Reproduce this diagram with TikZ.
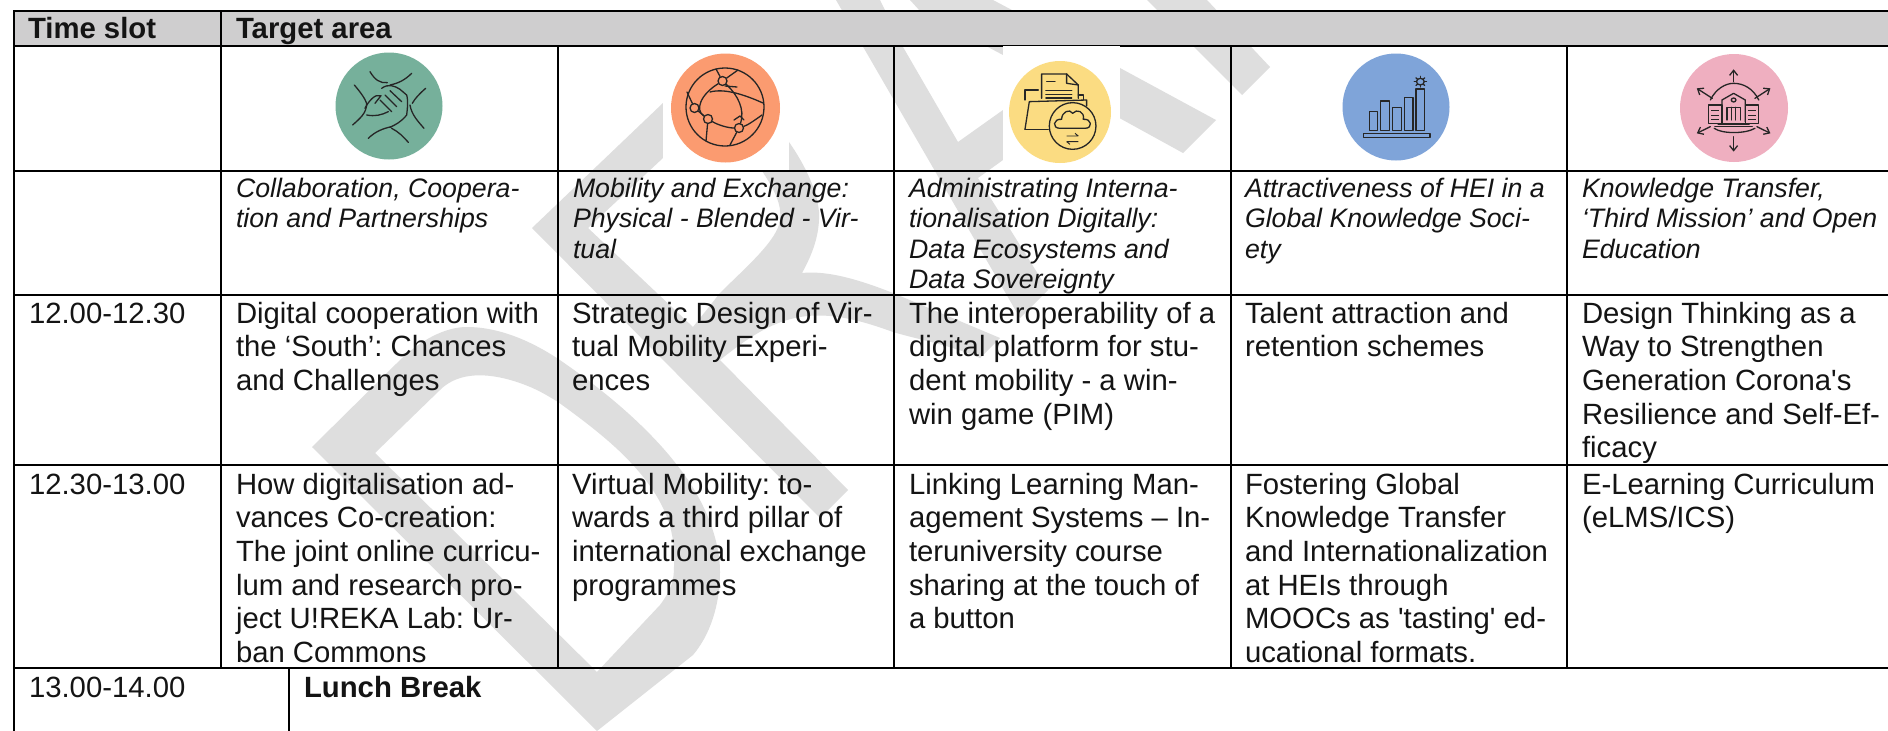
\documentclass[tikz,border=0pt]{standalone}
\usepackage{fontspec}
\newfontfamily\lib{Liberation Sans}
\frenchspacing
\usetikzlibrary{arrows.meta}
\definecolor{wm}{RGB}{222,222,222}
\definecolor{hdr}{RGB}{207,206,207}
\definecolor{ink}{RGB}{20,20,20}
\definecolor{icgreen}{RGB}{118,176,155}
\definecolor{icorange}{RGB}{251,155,112}
\definecolor{icyellow}{RGB}{251,220,130}
\definecolor{icblue}{RGB}{127,164,217}
\definecolor{icpink}{RGB}{239,175,192}
\newcommand\cellrows[1]{\begin{tabular}[t]{@{}l@{}}#1\end{tabular}}
\tikzset{
  wmshape/.style={fill=wm,draw=none},
  rule/.style={line width=1.8pt,draw=black,line cap=rect},
  body/.style={anchor=base west,inner sep=0pt,outer sep=0pt,text=ink,font=\lib\fontsize{29.3}{33.7}\selectfont\frenchspacing},
  ital/.style={anchor=base west,inner sep=0pt,outer sep=0pt,text=ink,font=\lib\fontsize{26.7}{30.6}\selectfont\itshape\frenchspacing},
  head/.style={anchor=base west,inner sep=0pt,outer sep=0pt,text=ink,font=\lib\fontsize{29.3}{33.7}\selectfont\bfseries\frenchspacing},
  art/.style={draw=black!85,line width=1.3pt,line join=round,line cap=round},
  thinart/.style={draw=black!85,line width=0.9pt},
  dot/.style={circle,draw=black!85,line width=1.3pt,minimum size=9pt,inner sep=0pt},
  arr/.style={art,-{Straight Barb[length=5pt,width=8pt]}},
}
\begin{document}
\begin{tikzpicture}[x=1pt,y=-1pt]
\useasboundingbox (0,0) rectangle (1888,731);
\fill[white] (0,0) rectangle (1888,731);

% watermark: D
\fill[wmshape,even odd rule]
  (312,447) -- (397,363) .. controls (420,340) and (445,327) .. (467,327)
  .. controls (500,327) and (535,342) .. (567,365)
  .. controls (610,395) and (650,430) .. (677,465)
  .. controls (705,500) and (720,540) .. (720,572)
  .. controls (720,605) and (710,635) .. (693,655)
  -- (597,731) -- cycle
  (375,453) -- (440,390) .. controls (455,375) and (480,370) .. (517,382)
  .. controls (535,388) and (545,394) .. (558,402)
  .. controls (590,425) and (615,445) .. (633,465)
  .. controls (665,500) and (675,530) .. (674,560)
  .. controls (674,575) and (675,585) .. (660,605)
  -- (597,672) -- cycle;
% watermark: R
\fill[wmshape,even odd rule]
  (532,228) -- (663,103) -- (700,66) .. controls (740,75) and (770,105) .. (789,142)
  .. controls (805,165) and (817,190) .. (819,212)
  .. controls (820,235) and (812,255) .. (802,273)
  .. controls (830,270) and (865,282) .. (893,293)
  -- (1000,338) -- (980,358)
  .. controls (950,345) and (920,340) .. (893,332)
  .. controls (860,320) and (830,312) .. (800,317)
  .. controls (770,322) and (745,340) .. (720,360)
  -- (848,490) -- (820,518) -- cycle
  (588,228) -- (663,158) -- (710,115) .. controls (730,125) and (748,145) .. (760,168)
  .. controls (775,190) and (782,205) .. (780,220)
  .. controls (778,240) and (745,268) .. (720,293)
  -- (693,327) -- cycle;
% watermark: A
\fill[wmshape]
  (836,0) -- (1020,318) -- (1048,290) -- (978,178) -- (1003,160) -- (1083,98)
  -- (1183,153) -- (1216,120) -- (1120,68) -- (1010,9) -- (993,0) -- (910,0)
  -- (920,11) -- (1003,55) -- (1047,78) -- (1003,110) -- (958,142) -- (903,47) -- (880,0) -- cycle;
% watermark: F
\fill[wmshape] (1147,0) -- (1207,0) -- (1270,67) -- (1242,95) -- cycle;

% white backgrounds of two icons
\fill[white] (663,47) rectangle (789,170);

% header band
\fill[hdr] (14,11) rectangle (1888,46);

% table rules
\draw[rule] (14,11) -- (1888,11);
\draw[rule] (14,46) -- (1888,46);
\draw[rule] (14,171) -- (1888,171);
\draw[rule] (14,295) -- (1888,295);
\draw[rule] (14,465) -- (1888,465);
\draw[rule] (14,668) -- (1888,668);
\draw[rule] (14,11) -- (14,731);
\draw[rule] (221,11) -- (221,668);
\draw[rule] (558,46) -- (558,668);
\draw[rule] (894,46) -- (894,668);
\draw[rule] (1231,46) -- (1231,668);
\draw[rule] (1567,46) -- (1567,668);
\draw[rule] (289,668) -- (289,731);

\fill[white] (1003,45.7) rectangle (1120,170);

% icon discs
\fill[icgreen] (389,106) circle (53.5);
\fill[icorange] (725.5,108) circle (54.5);
\fill[icyellow] (1060,112) circle (51);
\fill[icblue] (1396,107) circle (53.5);
\fill[icpink] (1734,108) circle (54);

% green icon: hands
\begin{scope}[shift={(250pt,0pt)},x=0.3333pt,y=-0.3333pt]
\draw[art] (360,215) .. controls (375,240) and (390,250) .. (412,248);
\draw[art] (485,220) .. controls (465,240) and (445,250) .. (420,255);
\draw[art] (313,255) .. controls (330,275) and (345,295) .. (350,310);
\draw[art] (350,310) .. controls (350,340) and (330,355) .. (308,375);
\draw[art] (527,265) .. controls (510,280) and (495,295) .. (487,310);
\draw[art] (480,315) .. controls (485,345) and (505,365) .. (522,385);
\draw[art] (355,415) .. controls (375,395) and (400,385) .. (425,380);
\draw[art] (425,385) .. controls (445,395) and (460,410) .. (475,427);
\draw[art] (345,325) .. controls (355,305) and (375,280) .. (393,287) -- (375,310);
\draw[art] (395,265) .. controls (415,250) and (435,258) .. (450,268);
\draw[art] (450,268) -- (470,285) .. controls (475,300) and (472,330) .. (470,345);
\draw[art] (470,345) .. controls (455,365) and (435,375) .. (420,382);
\draw[art] (405,285) -- (440,320);
\draw[art] (420,272) -- (455,305);
\draw[art] (390,300) -- (425,335);
\draw[art] (350,345) .. controls (375,350) and (395,345) .. (415,335);
\end{scope}

% orange icon: globe
\draw[art] (725,107) circle (39);
\node[dot] (gA) at (722.5,81) {};
\node[dot] (gB) at (694.5,108) {};
\node[dot] (gC) at (708,119) {};
\node[dot] (gD) at (739,128) {};
\draw[art] (gA) .. controls (700,95) and (695,110) .. (gC);
\draw[art] (gA) .. controls (738,95) and (745,110) .. (gD);
\draw[art] (gB) -- (gC);
\draw[art] (gC) .. controls (718,125) and (728,128) .. (gD);
\draw[art] (gD) .. controls (748,125) and (755,120) .. (762,115);
\draw[art] (710,92) .. controls (725,88) and (745,95) .. (763,103);
\draw[art] (gC) -- (706,141);
\draw[art] (gD) -- (730,145);
\draw[art] (gA) -- (716,69);
\draw[art] (gA) -- (738,70);
\draw[art] (gB) -- (687,92);
\draw[art] (725,86) -- (737,87);
\draw[art] (734,120) -- (740,116) -- (744,120);

% yellow icon: folder and cloud
\begin{scope}[shift={(750pt,0pt)},x=0.3333pt,y=-0.3333pt]
\draw[art] (875,295) -- (875,222) -- (950,222) -- (985,255) -- (985,295);
\draw[art] (950,222) -- (950,250) -- (985,255);
\draw[art] (890,245) -- (915,245);
\draw[art,line width=1.6pt] (888,272) -- (965,272);
\draw[art,line width=1.6pt] (888,283) -- (965,283);
\draw[art,line width=1.6pt] (888,294) -- (965,294);
\draw[art] (825,300) -- (825,270) -- (865,270);
\draw[art] (825,388) -- (838,305) -- (1010,300) -- (1010,318);
\draw[art] (825,388) -- (895,388);
\draw[art] (985,285) -- (1000,285) -- (1000,300);
\draw[art] (968,378) circle (70);
\draw[art] (930,385) .. controls (905,385) and (910,355) .. (935,358)
  .. controls (935,335) and (960,325) .. (968,340)
  .. controls (980,325) and (1005,335) .. (1000,358)
  .. controls (1025,355) and (1030,385) .. (1005,385) -- cycle;
\draw[thinart] (950,408) -- (985,408) (975,400) -- (985,408);
\draw[thinart] (950,425) -- (985,425) (950,425) -- (960,433);
\end{scope}

% blue icon: bars
\begin{scope}[shift={(1280pt,0pt)},x=0.3877pt,y=-0.3333pt]
\draw[art] (215,400) rectangle (387,413);
\draw[art] (230,392) rectangle (252,335);
\draw[art] (260,392) rectangle (282,303);
\draw[art] (291,392) rectangle (313,322);
\draw[art] (321,392) rectangle (343,292);
\draw[art] (351,392) rectangle (373,267);
\draw[art] (362,245) circle (10);
\foreach \a in {0,45,...,315} \draw[art] (362,245) ++(\a:10) -- ++(\a:6);
\end{scope}

% pink icon: building with arrows
\begin{scope}[shift={(1280pt,0pt)},x=0.3877pt,y=-0.3333pt]
\draw[arr] (1170,245) -- (1170,208);
\draw[arr] (1170,410) -- (1170,455);
\draw[arr] (1115,295) -- (1075,265);
\draw[arr] (1225,295) -- (1265,265);
\draw[arr] (1110,380) -- (1075,400);
\draw[arr] (1230,380) -- (1265,400);
\draw[art] (1110,300) .. controls (1125,265) and (1150,250) .. (1170,250) .. controls (1195,250) and (1220,265) .. (1235,300);
\draw[art] (1120,385) .. controls (1140,402) and (1200,402) .. (1225,385);
\draw[art] (1105,315) rectangle (1140,370);
\draw[art] (1200,315) rectangle (1235,370);
\draw[art] (1140,365) -- (1140,300) -- (1170,280) -- (1200,300) -- (1200,365);
\draw[art] (1170,300) circle (6);
\draw[art] (1153,360) -- (1153,322) -- (1187,322) -- (1187,360);
\draw[art] (1165,322) -- (1165,360) (1175,322) -- (1175,360);
\draw[art,line width=1.6pt] (1130,372) -- (1210,372);
\draw[art,line width=1.6pt] (1122,380) -- (1218,380);
\draw[thinart] (1112,330) -- (1133,330) (1112,345) -- (1133,345) (1112,358) -- (1133,358);
\draw[thinart] (1207,330) -- (1228,330) (1207,345) -- (1228,345) (1207,358) -- (1228,358);
\end{scope}

% header
\node[head] (hTime) at (28,38) {Time slot};
\node[head] (hArea) at (236,38) {Target area};

% italic captions
\node[ital] (t1) at (236,197) {\cellrows{Collaboration, Coopera-\\tion and Partnerships}};
\node[ital] (t2) at (573,197) {\cellrows{Mobility and Exchange:\\Physical - Blended - Vir-\\tual}};
\node[ital] (t3) at (909,197) {\cellrows{Administrating Interna-\\tionalisation Digitally:\\Data Ecosystems and\\Data Sovereignty}};
\node[ital] (t4) at (1245,197) {\cellrows{Attractiveness of HEI in a\\Global Knowledge Soci-\\ety}};
\node[ital] (t5) at (1582,197) {\cellrows{Knowledge Transfer,\\‘Third Mission’ and Open\\Education}};

% row 12.00
\node[body] (r1) at (29,323) {12.00-12.30};
\node[body] (a1) at (236,323) {\cellrows{Digital cooperation with\\the ‘South’: Chances\\and Challenges}};
\node[body] (a2) at (572,323) {\cellrows{Strategic Design of Vir-\\tual Mobility Experi-\\ences}};
\node[body] (a3) at (909,323) {\cellrows{The interoperability of a\\digital platform for stu-\\dent mobility - a win-\\win game (PIM)}};
\node[body] (a4) at (1245,323) {\cellrows{Talent attraction and\\retention schemes}};
\node[body] (a5) at (1582,323) {\cellrows{Design Thinking as a\\Way to Strengthen\\Generation Corona's\\Resilience and Self-Ef-\\ficacy}};

% row 12.30
\node[body] (r2) at (29,494) {12.30-13.00};
\node[body] (b1) at (236,494) {\cellrows{How digitalisation ad-\\vances Co-creation:\\The joint online curricu-\\lum and research pro-\\ject U!REKA Lab: Ur-\\ban Commons}};
\node[body] (b2) at (572,494) {\cellrows{Virtual Mobility: to-\\wards a third pillar of\\international exchange\\programmes}};
\node[body] (b3) at (909,494) {\cellrows{Linking Learning Man-\\agement Systems – In-\\teruniversity course\\sharing at the touch of\\a button}};
\node[body] (b4) at (1245,494) {\cellrows{Fostering Global\\Knowledge Transfer\\and Internationalization\\at HEIs through\\MOOCs as 'tasting' ed-\\ucational formats.}};
\node[body] (b5) at (1582,494) {\cellrows{E-Learning Curriculum\\(eLMS/ICS)}};

% lunch
\node[body] (r3) at (29,697) {13.00-14.00};
\node[head] (l1) at (304,697) {Lunch Break};
\end{tikzpicture}
\end{document}
